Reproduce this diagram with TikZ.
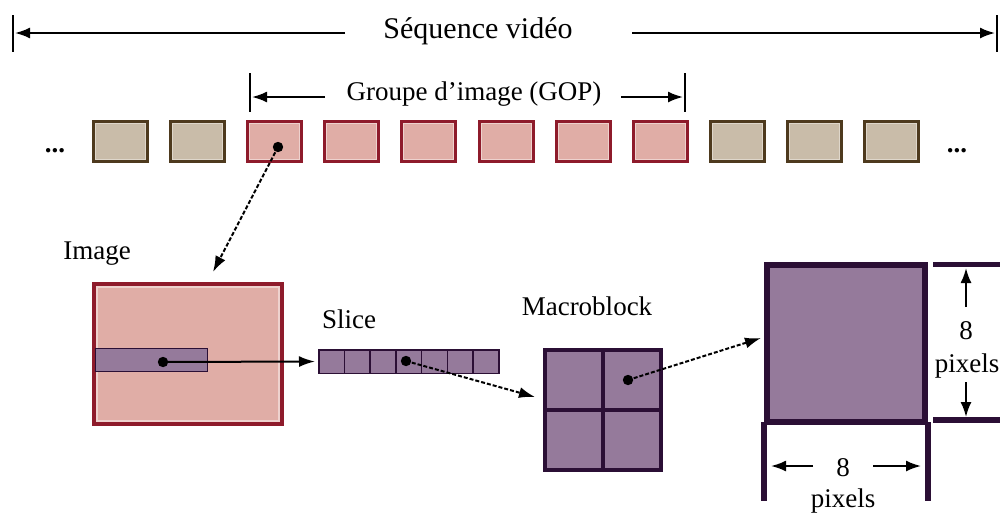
\documentclass[tikz,border=0pt]{standalone}
\usepackage{fontspec}
\setmainfont{Liberation Serif}
\usetikzlibrary{arrows.meta}
\definecolor{pinkfill}{HTML}{E0ADA6}
\definecolor{redline}{HTML}{8E1B2B}
\definecolor{brownfill}{HTML}{C9BCA9}
\definecolor{brownline}{HTML}{4E3A1E}
\definecolor{purplefill}{HTML}{957A9B}
\definecolor{purpleline}{HTML}{2B0F35}
\begin{document}
\begin{tikzpicture}[x=0.5pt,y=-0.5pt,
  frame/.style={draw, line width=2pt, minimum width=26.5pt, minimum height=19.5pt, inner sep=0pt},
  gopframe/.style={frame, draw=redline, fill=pinkfill},
  otherframe/.style={frame, draw=brownline, fill=brownfill},
  lbl/.style={font=\fontsize{13.5}{16}\selectfont, anchor=base, inner sep=0pt},
  conn/.style={line width=1pt, -{Latex[length=8pt,width=5.5pt]}},
  dashconn/.style={conn, dash pattern=on 2pt off 1pt},
  dimarrow/.style={line width=1pt, -{Latex[length=7.5pt,width=5.5pt]}},
  dot/.style={circle, fill=black, inner sep=0pt, minimum size=5.2pt},
  tickline/.style={line width=1.3pt},
  cell/.style={draw=purpleline, fill=purplefill, inner sep=0pt}]
\useasboundingbox (0,0) rectangle (1002,515);

% --- Sequence video dimension line
\node[font=\fontsize{15}{18}\selectfont, anchor=base, inner sep=0pt] (seq) at (478,38) {Séquence vidéo};
\coordinate (seqL) at (15,33);
\coordinate (seqLa) at (345,33);
\coordinate (seqR) at (995,33);
\coordinate (seqRa) at (632,33);
\draw[tickline] (13,15) -- (13,52);
\draw[tickline] (997,15) -- (997,52);
\draw[dimarrow] (seqLa) -- (seqL);
\draw[dimarrow] (seqRa) -- (seqR);

% --- GOP dimension line
\node[lbl] (gop) at (474,100) {Groupe d’image (GOP)};
\coordinate (gopL) at (252,97);
\coordinate (gopLa) at (325,97);
\coordinate (gopR) at (683,97);
\coordinate (gopRa) at (621,97);
\draw[tickline] (250,73) -- (250,112);
\draw[tickline] (685,73) -- (685,112);
\draw[dimarrow] (gopLa) -- (gopL);
\draw[dimarrow] (gopRa) -- (gopR);

% --- frames
\foreach \k in {0,1,8,9,10}{
  \node[otherframe] (f\k) at ({120.5+77.1*\k},141.5) {};
  \draw[white!40!brownfill, line width=0.5pt] ([shift={(3.5,3.5)}]f\k.north west) rectangle ([shift={(-3.5,-3.5)}]f\k.south east);
}
\foreach \k in {2,...,7}{
  \node[gopframe] (f\k) at ({120.5+77.1*\k},141.5) {};
  \draw[white!45!pinkfill, line width=0.5pt] ([shift={(3.5,3.5)}]f\k.north west) rectangle ([shift={(-3.5,-3.5)}]f\k.south east);
}
\node[font=\fontsize{13.5}{16}\selectfont\bfseries, anchor=base, inner sep=0pt] (ldots) at (55,152) {...};
\node[font=\fontsize{13.5}{16}\selectfont\bfseries, anchor=base, inner sep=0pt] (rdots) at (957,152) {...};

% --- Image
\node[lbl] (imglbl) at (97,259) {Image};
\node[draw=redline, fill=pinkfill, line width=2pt, minimum width=94pt, minimum height=70pt, inner sep=0pt] (img) at (188,354) {};
\draw[white!45!pinkfill, line width=0.6pt] ([shift={(5,5)}]img.north west) rectangle ([shift={(-5,-5)}]img.south east);
\node[cell, line width=0.7pt, minimum width=56pt, minimum height=11.5pt] (sl) at (151.5,360) {};

\node[dot] (d1) at (278,147) {};
\coordinate (imgin) at (213,272);
\draw[dashconn] (d1.center) -- (imgin);

% --- Slice
\node[lbl] (slicelbl) at (349,328) {Slice};
\foreach \i in {1,...,7}
  \node[cell, line width=0.75pt, minimum width=12.857pt, minimum height=11.75pt] (s\i) at ({318.75+12.857+25.714*(\i-1)},361.5) {};
\node[dot] (d2) at (163,362) {};
\draw[conn] (d2.center) -- ([xshift=-1.5pt]s1.west);

% --- Macroblock
\node[lbl] (mblbl) at (587,315) {Macroblock};
\node[cell, line width=2pt, minimum width=29pt, minimum height=30pt] (m11) at (574,380) {};
\node[cell, line width=2pt, minimum width=29pt, minimum height=30pt] (m12) at (632,380) {};
\node[cell, line width=2pt, minimum width=29pt, minimum height=30pt] (m21) at (574,440) {};
\node[cell, line width=2pt, minimum width=29pt, minimum height=30pt] (m22) at (632,440) {};
\node[dot] (d3) at (406,361) {};
\coordinate (mbin) at (535,397);
\draw[dashconn] (d3.center) -- (mbin);

% --- Block
\node[cell, line width=3pt, minimum width=79pt, minimum height=78.5pt] (blk) at (846,343.5) {};
\draw[purpleline, line width=3pt] ([yshift=1.5pt]blk.south west) -- ++(0,79);
\draw[purpleline, line width=3pt] ([yshift=1.5pt]blk.south east) -- ++(0,79);
\node[dot] (d4) at (628,380) {};
\coordinate (blkin) at (761,338);
\draw[dashconn] (d4.center) -- (blkin);

% right dimension
\draw[purpleline, line width=2.6pt] (933,264.5) -- (1000,264.5);
\draw[purpleline, line width=2.6pt] (933,420) -- (1000,420);
\node[lbl] (v8) at (966,339) {8};
\node[lbl] (vpx) at (967,372) {pixels};
\coordinate (vupA) at (966,307);
\coordinate (vupB) at (966,268);
\coordinate (vdnA) at (966,382);
\coordinate (vdnB) at (966,417);
\draw[dimarrow] (vupA) -- (vupB);
\draw[dimarrow] (vdnA) -- (vdnB);

% bottom dimension
\node[lbl] (h8) at (843,476) {8};
\node[lbl] (hpx) at (843,507) {pixels};
\coordinate (hlA) at (813,466);
\coordinate (hlB) at (771,466);
\coordinate (hrA) at (873,466);
\coordinate (hrB) at (921,466);
\draw[dimarrow] (hlA) -- (hlB);
\draw[dimarrow] (hrA) -- (hrB);
\end{tikzpicture}
\end{document}
